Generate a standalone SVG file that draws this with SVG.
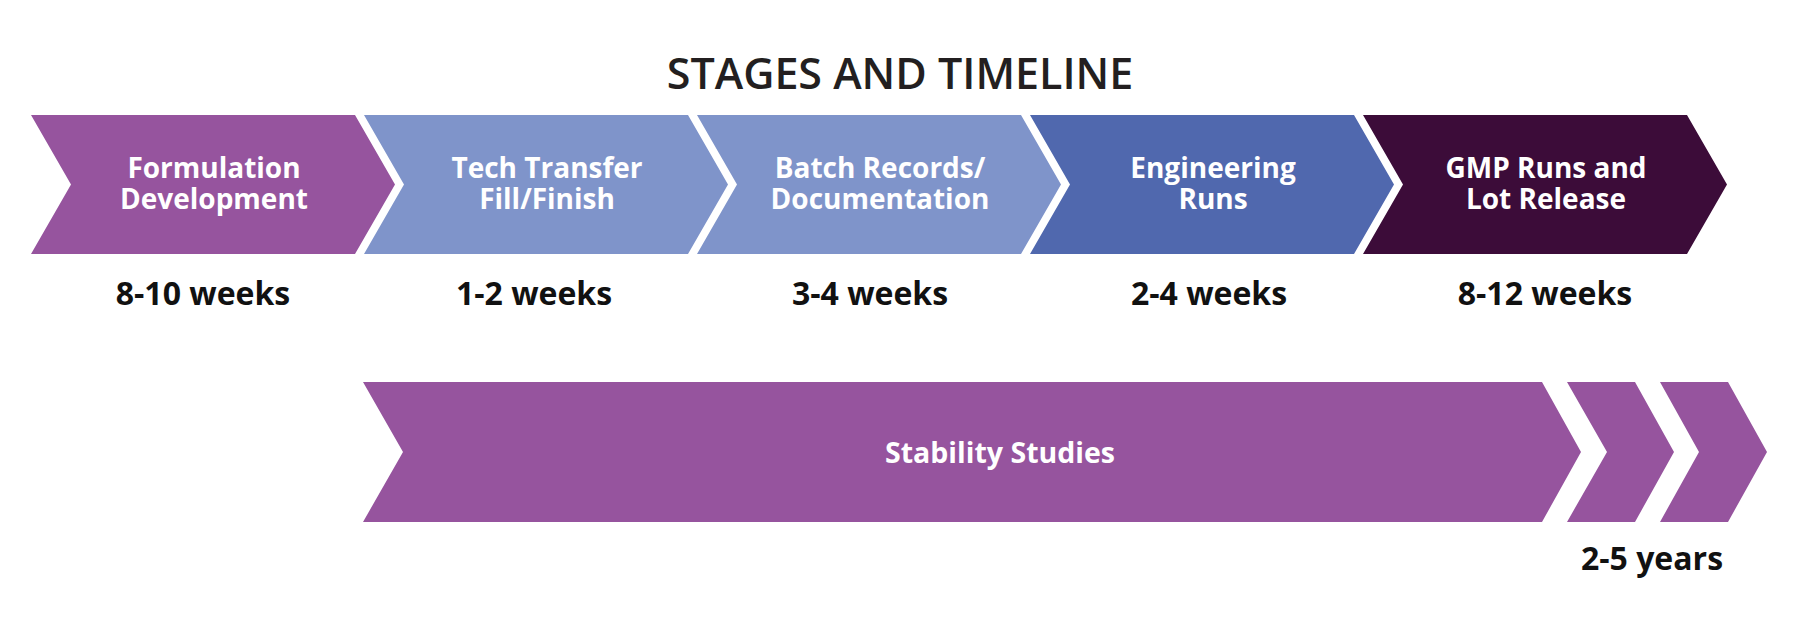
<svg xmlns="http://www.w3.org/2000/svg" width="1800" height="634" viewBox="0 0 1800 634">
<style>
.lbl{font-family:"Open Sans","Liberation Sans",sans-serif;font-weight:700;font-size:28px;fill:#ffffff;text-anchor:middle}
.dur{font-family:"Open Sans","Liberation Sans",sans-serif;font-weight:700;font-size:32px;fill:#111111;text-anchor:middle}
.title{font-family:"Open Sans","Liberation Sans",sans-serif;font-weight:600;font-size:43px;fill:#231f20;text-anchor:middle}
.purple{fill:#96549e}
.lblue{fill:#7f94ca}
.blue{fill:#5068ae}
.dark{fill:#3c0c39}
</style>
<rect width="1800" height="634" fill="#ffffff"/>
<text class="title" x="900" y="89">STAGES AND TIMELINE</text>
<g id="stage1">
<polygon class="purple" points="31,115 355,115 395,184.5 355,254 31,254 71,184.5"/>
<text class="lbl"><tspan x="214" y="178">Formulation</tspan><tspan x="214" y="209">Development</tspan></text>
</g>
<g id="stage2">
<polygon class="lblue" points="364,115 688,115 728,184.5 688,254 364,254 404,184.5"/>
<text class="lbl"><tspan x="547" y="178">Tech Transfer</tspan><tspan x="547" y="209">Fill/Finish</tspan></text>
</g>
<g id="stage3">
<polygon class="lblue" points="697,115 1021,115 1061,184.5 1021,254 697,254 737,184.5"/>
<text class="lbl"><tspan x="880" y="178">Batch Records/</tspan><tspan x="880" y="209">Documentation</tspan></text>
</g>
<g id="stage4">
<polygon class="blue" points="1030,115 1354,115 1394,184.5 1354,254 1030,254 1070,184.5"/>
<text class="lbl"><tspan x="1213" y="178">Engineering</tspan><tspan x="1213" y="209">Runs</tspan></text>
</g>
<g id="stage5">
<polygon class="dark" points="1363,115 1687,115 1727,184.5 1687,254 1363,254 1403,184.5"/>
<text class="lbl"><tspan x="1546" y="178">GMP Runs and</tspan><tspan x="1546" y="209">Lot Release</tspan></text>
</g>
<g id="durations">
<text class="dur" x="203" y="305">8-10 weeks</text>
<text class="dur" x="534" y="305">1-2 weeks</text>
<text class="dur" x="870" y="305">3-4 weeks</text>
<text class="dur" x="1209" y="305">2-4 weeks</text>
<text class="dur" x="1545" y="305">8-12 weeks</text>
</g>
<g id="stability">
<polygon class="purple" points="363,382 1542,382 1581,452 1542,522 363,522 403,452"/>
<polygon class="purple" points="1567,382 1635,382 1674,452 1635,522 1567,522 1607,452"/>
<polygon class="purple" points="1660,382 1728,382 1767,452 1728,522 1660,522 1699,452"/>
<text class="lbl" x="1000" y="463" style="font-size:28.5px">Stability Studies</text>
<text class="dur" x="1652" y="570">2-5 years</text>
</g>
<g id="connectors"/>
</svg>
